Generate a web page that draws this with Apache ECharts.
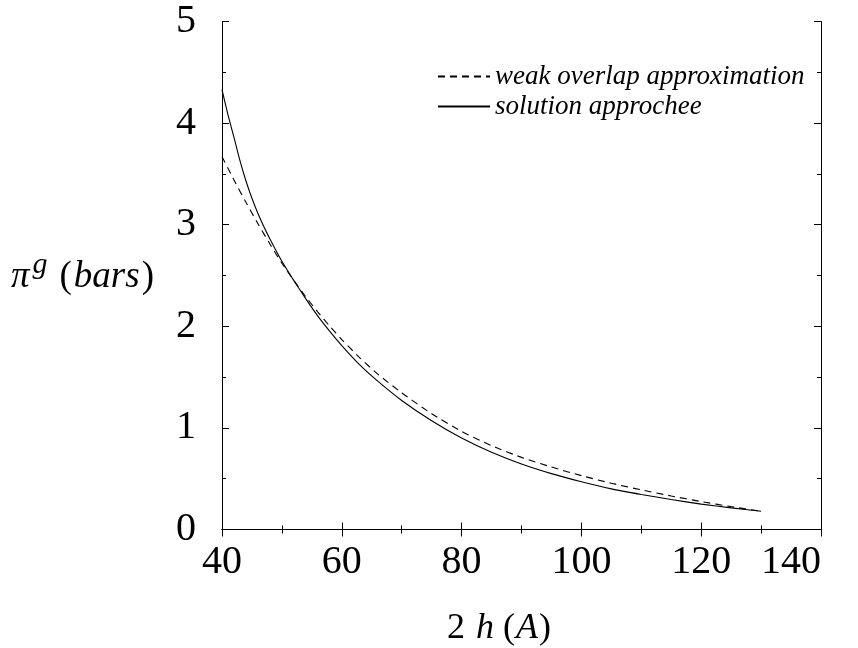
<!DOCTYPE html>
<html>
<head>
<meta charset="utf-8">
<script src="https://cdn.jsdelivr.net/npm/echarts@6/dist/echarts.min.js"></script>
<style>
  html, body { margin: 0; padding: 0; background: #fff; }
  #chart { width: 858px; height: 648px; }
</style>
</head>
<body>
<div id="chart"></div>
<script>
// separation 2h (A)
var xWeak = [40, 42, 44, 46, 48, 50, 52, 54, 56, 58, 60, 63, 66, 70, 75, 80, 85, 90, 95, 100, 105, 110, 115, 120, 125, 130];
var yWeak = [3.67, 3.44, 3.22, 3.01, 2.81, 2.62, 2.45, 2.29, 2.14, 2.00, 1.87, 1.69, 1.53, 1.345, 1.14, 0.965, 0.825, 0.71, 0.615, 0.53, 0.455, 0.39, 0.33, 0.275, 0.225, 0.18];

var xSol = [40, 41, 42, 43, 44, 45, 46, 47, 48, 50, 52, 54, 56, 58, 60, 63, 66, 70, 75, 80, 85, 90, 95, 100, 105, 110, 115, 120, 125, 130];
var ySol = [4.33, 4.08, 3.86, 3.63, 3.43, 3.26, 3.11, 2.98, 2.86, 2.64, 2.45, 2.27, 2.10, 1.95, 1.81, 1.62, 1.46, 1.27, 1.07, 0.90, 0.76, 0.645, 0.55, 0.47, 0.40, 0.345, 0.295, 0.25, 0.213, 0.18];

var seriesNames = ['weak overlap approximation', 'solution approchee'];

function pairs(xs, ys) {
  return xs.map(function (x, i) { return [x, ys[i]]; });
}

var serif = 'Liberation Serif';
var axisBase = {
  type: 'value',
  axisLine: { show: true, lineStyle: { color: '#000', width: 1 } },
  axisTick: { show: true, inside: true, length: 7, lineStyle: { color: '#000' } },
  minorTick: { show: true, splitNumber: 2, length: 4, lineStyle: { color: '#000' } },
  splitLine: { show: false }
};

var chart = echarts.init(document.getElementById('chart'));
chart.setOption({
  backgroundColor: '#ffffff',
  animation: false,
  grid: { left: 222, top: 21.5, right: 37, bottom: 118.5, containLabel: false },
  legend: {
    orient: 'vertical',
    left: 432,
    top: 58,
    itemWidth: 52,
    itemHeight: 14,
    itemGap: 3,
    itemStyle: { opacity: 0 },
    textStyle: { fontFamily: serif, fontStyle: 'italic', fontSize: 27, color: '#000' },
    data: seriesNames
  },
  xAxis: [
    Object.assign({}, axisBase, {
      min: 40, max: 140, interval: 20, position: 'bottom',
      axisLabel: {
        fontFamily: serif, fontSize: 40, color: '#000', margin: 13,
        formatter: function (v) { return v === 140 ? '{last|140}' : String(v); },
        rich: { last: { fontFamily: serif, fontSize: 40, color: '#000', padding: [0, 60, 0, 0] } }
      }
    }),
    Object.assign({}, axisBase, {
      min: 40, max: 140, interval: 20, position: 'top',
      axisLabel: { show: false }
    })
  ],
  yAxis: [
    Object.assign({}, axisBase, {
      min: 0, max: 5, interval: 1, position: 'left',
      axisLabel: { fontFamily: serif, fontSize: 40, color: '#000', margin: 26 }
    }),
    Object.assign({}, axisBase, {
      min: 0, max: 5, interval: 1, position: 'right',
      axisLabel: { show: false }
    })
  ],
  graphic: [
    {
      type: 'text', left: 447, top: 611,
      style: {
        text: '{n|2}{h|h}{p|(}{i|A}{n|)}',
        rich: {
          n: { fontFamily: serif, fontSize: 36, fill: '#000' },
          p: { fontFamily: serif, fontSize: 36, fill: '#000', padding: [0, 0, 0, 9] },
          h: { fontFamily: serif, fontSize: 36, fontStyle: 'italic', fill: '#000', padding: [0, 0, 0, 11] },
          i: { fontFamily: serif, fontSize: 36, fontStyle: 'italic', fill: '#000', padding: [0, 1, 0, 1] }
        }
      }
    },
    {
      type: 'text', left: 11, top: 250,
      style: {
        text: '{i|π}{s|g}{n|(}{b|bars}{n|)}',
        rich: {
          n: { fontFamily: serif, fontSize: 37, fill: '#000' },
          i: { fontFamily: serif, fontSize: 37, fontStyle: 'italic', fill: '#000' },
          b: { fontFamily: serif, fontSize: 37, fontStyle: 'italic', fill: '#000', padding: [0, 2, 0, 2] },
          s: { fontFamily: serif, fontSize: 30, fontStyle: 'italic', fill: '#000', verticalAlign: 'top', padding: [0, 12, 24, 3] }
        }
      }
    }
  ],
  series: [
    {
      name: seriesNames[0],
      type: 'line',
      data: pairs(xWeak, yWeak),
      smooth: 0.2,
      symbol: 'none',
      lineStyle: { color: '#000', width: 1.1, type: [7, 5] },
      itemStyle: { color: '#000' }
    },
    {
      name: seriesNames[1],
      type: 'line',
      data: pairs(xSol, ySol),
      smooth: 0.2,
      symbol: 'none',
      lineStyle: { color: '#000', width: 1.1 },
      itemStyle: { color: '#000' }
    }
  ]
});
</script>
</body>
</html>
